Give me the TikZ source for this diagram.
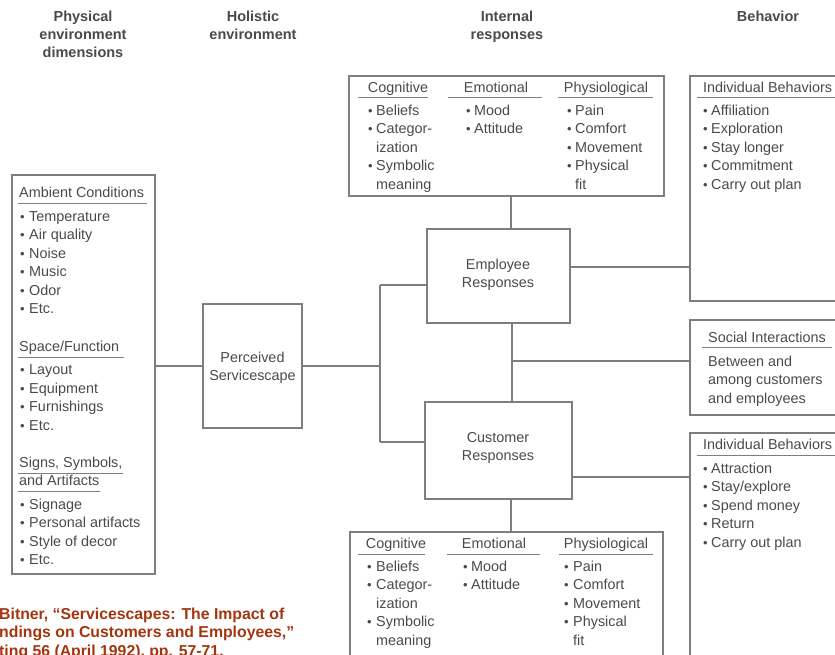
\documentclass[tikz,border=0pt]{standalone}
\usepackage{fontspec}
\setmainfont{Liberation Sans}
\definecolor{txt}{HTML}{4A4A4A}
\definecolor{ln}{HTML}{7E7E7E}
\definecolor{citec}{HTML}{A3360F}
\newcommand\bitem[5]{\node[bul] (#1b) at (#2,#4) {•}; \node[tx] (#1) at (#3,#4) {#5};}
\begin{document}
\begin{tikzpicture}[x=1pt,y=-1pt,
  tx/.style={anchor=base west, inner sep=0, font=\fontsize{14.4}{16}\selectfont, text=txt},
  bul/.style={anchor=base west, inner sep=0, font=\fontsize{13}{14}\selectfont, text=txt},
  tc/.style={tx, anchor=base},
  hd/.style={anchor=base, inner sep=0, font=\fontsize{14.5}{17}\selectfont\bfseries, text=txt},
  ul/.style={draw=ln, line width=1pt},
  box/.style={draw=ln, line width=1.3pt, inner sep=0},
  conn/.style={draw=ln, line width=1.3pt},
  cit/.style={anchor=base west, inner sep=0, font=\fontsize{15.8}{18}\selectfont\bfseries, text=citec}]
\useasboundingbox (0,0) rectangle (835,654);
\clip (0,0) rectangle (835,654);

% headers
\node[hd] (h1a) at (83,21) {Physical};
\node[hd] (h1b) at (83,39) {environment};
\node[hd] (h1c) at (83,57) {dimensions};
\node[hd] (h2a) at (253,21) {Holistic};
\node[hd] (h2b) at (253,39) {environment};
\node[hd] (h3a) at (507,21) {Internal};
\node[hd] (h3b) at (507,39) {responses};
\node[hd] (h4a) at (768,21) {Behavior};

% boxes
\node[box, minimum width=143pt, minimum height=399pt] (amb) at (83.5,374.5) {};
\node[box, minimum width=99pt, minimum height=124pt] (serv) at (252.5,366) {};
\node[box, minimum width=315pt, minimum height=120pt] (itop) at (506.5,136) {};
\node[box, minimum width=143pt, minimum height=94pt] (emp) at (498.5,276) {};
\node[box, minimum width=147pt, minimum height=97pt] (cust) at (498.5,450.5) {};
\node[box, minimum width=313pt, minimum height=148pt] (ibot) at (506.5,606) {};
\node[box, minimum width=160pt, minimum height=225pt] (btop) at (770,188.5) {};
\node[box, minimum width=160pt, minimum height=95pt] (soc) at (770,367.5) {};
\node[box, minimum width=160pt, minimum height=247pt] (bbot) at (770,556.5) {};

% box labels
\node[tc] (servt1) at (252.5,362) {Perceived};
\node[tc] (servt2) at (252.5,380) {Servicescape};
\node[tc] (empt1) at (498,269) {Employee};
\node[tc] (empt2) at (498,287) {Responses};
\node[tc] (custt1) at (498,442) {Customer};
\node[tc] (custt2) at (498,460) {Responses};

% connectors
\coordinate (j) at (380,366);
\coordinate (jE) at (380,285);
\coordinate (jC) at (380,442);
\coordinate (mtop) at (511,196);
\coordinate (memp) at (511,229);
\coordinate (mid1) at (512,323);
\coordinate (mid2) at (512,402);
\coordinate (midS) at (512,361);
\coordinate (mcu) at (511,499);
\coordinate (mbo) at (511,532);
\coordinate (eR) at (570,267);
\coordinate (cR) at (572,477);
\draw[conn] (amb.east |- serv.west) -- (serv.west);
\draw[conn] (serv.east) -- (j);
\draw[conn] (jE) -- (jC);
\draw[conn] (jE) -- (jE -| emp.west);
\draw[conn] (jC) -- (jC -| cust.west);
\draw[conn] (mtop) -- (memp);
\draw[conn] (mid1) -- (mid2);
\draw[conn] (midS) -- (midS -| soc.west);
\draw[conn] (eR) -- (eR -| btop.west);
\draw[conn] (cR) -- (cR -| bbot.west);
\draw[conn] (mcu) -- (mbo);

% left box content
\node[tx] (ambh) at (19,197) {Ambient Conditions};
\draw[ul] (18,203) -- (147,203);
\bitem{a1}{20}{29}{221}{Temperature}
\bitem{a2}{20}{29}{239.5}{Air quality}
\bitem{a3}{20}{29}{258}{Noise}
\bitem{a4}{20}{29}{276.5}{Music}
\bitem{a5}{20}{29}{295}{Odor}
\bitem{a6}{20}{29}{313.5}{Etc.}
\node[tx] (spah) at (19,351) {Space/Function};
\draw[ul] (18,357) -- (124,357);
\bitem{s1}{20}{29}{374.5}{Layout}
\bitem{s2}{20}{29}{393}{Equipment}
\bitem{s3}{20}{29}{411.5}{Furnishings}
\bitem{s4}{20}{29}{430}{Etc.}
\node[tx] (sigh1) at (19,467) {Signs, Symbols,};
\draw[ul] (18,473) -- (123,473);
\node[tx] (sigh2) at (19,485) {and Artifacts};
\draw[ul] (18,491) -- (100,491);
\bitem{g1}{20}{29}{509}{Signage}
\bitem{g2}{20}{29}{527.5}{Personal artifacts}
\bitem{g3}{20}{29}{546}{Style of decor}
\bitem{g4}{20}{29}{564.5}{Etc.}

% internal responses top
\node[tc] (tcog) at (398,92) {Cognitive};
\node[tc] (temo) at (496,92) {Emotional};
\node[tc] (tphy) at (606,92) {Physiological};
\draw[ul] (358,97) -- (428,97);
\draw[ul] (448,97) -- (542,97);
\draw[ul] (558,97) -- (653,97);
\bitem{tc1}{368}{376}{115}{Beliefs}
\bitem{tc2}{368}{376}{133.5}{Categor-}
\node[tx] (tc3) at (376,152) {ization};
\bitem{tc4}{368}{376}{170.5}{Symbolic}
\node[tx] (tc5) at (376,189) {meaning};
\bitem{te1}{466}{474}{115}{Mood}
\bitem{te2}{466}{474}{133.5}{Attitude}
\bitem{tp1}{567}{575}{115}{Pain}
\bitem{tp2}{567}{575}{133.5}{Comfort}
\bitem{tp3}{567}{575}{152}{Movement}
\bitem{tp4}{567}{575}{170.5}{Physical}
\node[tx] (tp5) at (575,189) {fit};

% internal responses bottom
\node[tc] (bcog) at (396,548) {Cognitive};
\node[tc] (bemo) at (494,548) {Emotional};
\node[tc] (bphy) at (606,548) {Physiological};
\draw[ul] (358,554) -- (425,554);
\draw[ul] (447,554) -- (540,554);
\draw[ul] (559,554) -- (653,554);
\bitem{bc1}{367}{376}{571}{Beliefs}
\bitem{bc2}{367}{376}{589.5}{Categor-}
\node[tx] (bc3) at (376,608) {ization};
\bitem{bc4}{367}{376}{626.5}{Symbolic}
\node[tx] (bc5) at (376,645) {meaning};
\bitem{be1}{463}{471}{571}{Mood}
\bitem{be2}{463}{471}{589.5}{Attitude}
\bitem{bp1}{564}{573}{571}{Pain}
\bitem{bp2}{564}{573}{589.5}{Comfort}
\bitem{bp3}{564}{573}{608}{Movement}
\bitem{bp4}{564}{573}{626.5}{Physical}
\node[tx] (bp5) at (573,645) {fit};

% behaviors top
\node[tx] (rth) at (703,92) {Individual Behaviors};
\draw[ul] (697,97) -- (850,97);
\bitem{r1}{703}{711}{115}{Affiliation}
\bitem{r2}{703}{711}{133.5}{Exploration}
\bitem{r3}{703}{711}{152}{Stay longer}
\bitem{r4}{703}{711}{170.5}{Commitment}
\bitem{r5}{703}{711}{189}{Carry out plan}

% social
\node[tx] (soch) at (708,342) {Social Interactions};
\draw[ul] (702,347) -- (832,347);
\node[tx] (soc1) at (708,366) {Between and};
\node[tx] (soc2) at (708,384.5) {among customers};
\node[tx] (soc3) at (708,403) {and employees};

% behaviors bottom
\node[tx] (rbh) at (703,449) {Individual Behaviors};
\draw[ul] (697,455) -- (850,455);
\bitem{q1}{703}{711}{473}{Attraction}
\bitem{q2}{703}{711}{491.5}{Stay/explore}
\bitem{q3}{703}{711}{510}{Spend money}
\bitem{q4}{703}{711}{528.5}{Return}
\bitem{q5}{703}{711}{547}{Carry out plan}

% citation
\node[cit] (cit1) at (-1,619) {Bitner, “Servicescapes: The Impact of};
\node[cit] (cit2) at (-1,637.5) {ndings on Customers and Employees,”};
\node[cit] (cit3) at (-1,656) {ting 56 (April 1992), pp. 57-71.};
\end{tikzpicture}
\end{document}
